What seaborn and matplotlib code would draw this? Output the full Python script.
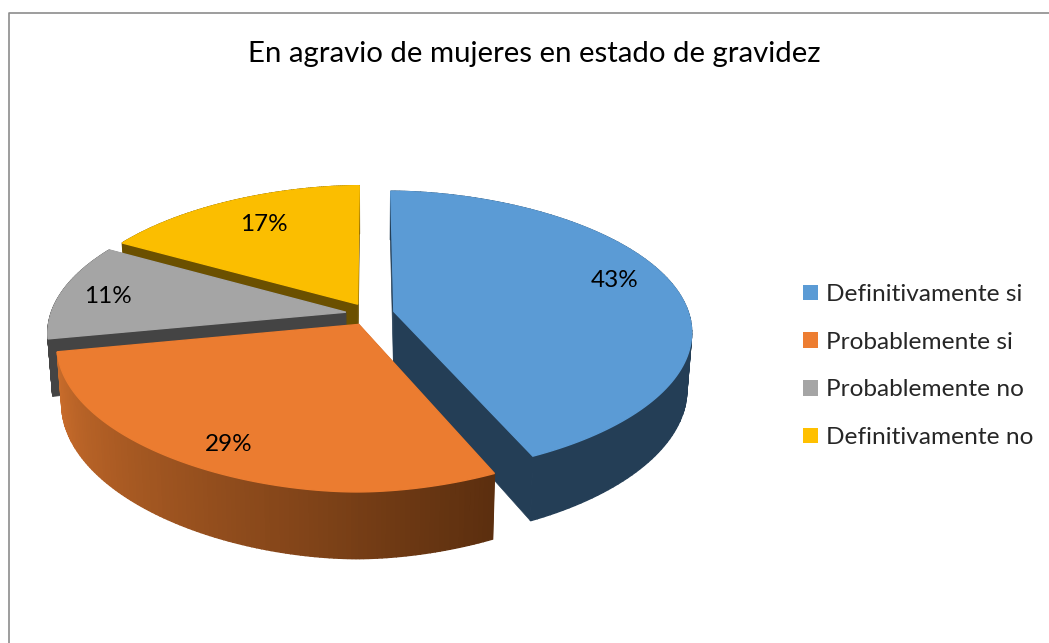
import numpy as np
import matplotlib
matplotlib.use("Agg")
import matplotlib.pyplot as plt
from matplotlib.patches import Patch
import seaborn as sns

# data
categories = ['Definitivamente si', 'Probablemente si', 'Probablemente no', 'Definitivamente no']
shares = [43, 29, 11, 17]
title = 'En agravio de mujeres en estado de gravidez'

top_colors = ['#5B9BD5', '#EB7C30', '#A5A5A5', '#FBBE00']
side_colors = [['#243E56', '#243E56'], ['#CC6E2C', '#5C2F0F'], ['#444444', '#444444'], ['#6B5000', '#6B5000']]
face_colors = ['#243E56', '#5C2F0F', '#444444', '#6B5000']

# pie geometry in picture pixels
CX, CY = 370, 314
RX, RY = 295, 139
PERSP = 0.15
WARP = 1.08
EXPLODE = 0.083
DEPTH = 56
label_nudge = [(3, -8), (-11, 10), (-16, 1), (10, 3)]

sns.set_theme(style="white")
plt.rcParams['font.family'] = ['Lato', 'DejaVu Sans']


def project(u, v, drop=0.0):
    # flat pie coords -> screen, nearer points get bigger
    s = 1 / (1 + PERSP * np.asarray(v))
    x = CX + RX * np.asarray(u) * s * (1 - 0.015 * (drop > 0))
    y = CY - RY * np.asarray(v) * s + drop * s
    return x, y


fig, ax = plt.subplots(figsize=(10.49, 6.43), dpi=100)
fig.subplots_adjust(0, 0, 1, 1)
ax.set_xlim(0, 1049)
ax.set_ylim(643, 0)
ax.axis('off')

# chart area border, only top and left are visible in the crop
ax.plot([8.5, 8.5, 1049], [643, 12.5, 12.5], color='#8c8c8c', lw=1.2)

edges = np.cumsum([0] + shares) / sum(shares) * 2 * np.pi
slices = []
for i in range(len(shares)):
    mid = (edges[i] + edges[i + 1]) / 2
    off_u, off_v = EXPLODE * np.sin(mid), EXPLODE * np.cos(mid)
    th = np.linspace(edges[i], edges[i + 1], 120)
    sin_th = np.sign(np.sin(th)) * np.abs(np.sin(th)) ** WARP
    slices.append((off_u, off_v, off_u + sin_th, off_v + np.cos(th), mid))

# painter order, back slices first
for i in [3, 2, 0, 1]:
    off_u, off_v, arc_u, arc_v, mid = slices[i]
    xt, yt = project(arc_u, arc_v)
    xb, yb = project(arc_u, arc_v, DEPTH)
    ax_, ay_ = project(off_u, off_v)
    axb, ayb = project(off_u, off_v, DEPTH)

    # the two cut faces
    ax.fill([ax_, xt[0], xb[0], axb], [ay_, yt[0], yb[0], ayb], color=face_colors[i], lw=0.5)
    ax.fill([ax_, xt[-1], xb[-1], axb], [ay_, yt[-1], yb[-1], ayb], color=face_colors[i], lw=0.5)

    # outer wall, split in strips for the shading
    ramp = sns.blend_palette(side_colors[i], len(xt) - 1)
    order = np.argsort(xt[:-1])
    for j, k in enumerate(order):
        ax.fill([xt[k], xt[k + 1], xb[k + 1], xb[k]], [yt[k], yt[k + 1], yb[k + 1], yb[k]],
                color=ramp[j], lw=1.0)

    # top
    ax.fill(np.r_[ax_, xt], np.r_[ay_, yt], color=top_colors[i], lw=1.0)

    lx, ly = project(off_u + 0.78 * np.sin(mid), off_v + 0.78 * np.cos(mid))
    ax.text(lx + label_nudge[i][0], ly + label_nudge[i][1], f"{shares[i]}%", ha='center', va='center',
            fontsize=17.5, color='black')

ax.text(534, 54, title, ha='center', va='center', fontsize=21.2, color='black')

handles = [Patch(facecolor=c, edgecolor='none') for c in ['#5B9BD5', '#ED7D31', '#A5A5A5', '#FFC000']]
ax.legend(handles, categories, loc='center left', bbox_to_anchor=(803 / 1049, 1 - 366 / 643),
          frameon=False, fontsize=17.6, handlelength=0.61, handleheight=0.61,
          handletextpad=0.33, labelspacing=1.09, borderpad=0, borderaxespad=0)

fig.savefig('out.png', dpi=100)
